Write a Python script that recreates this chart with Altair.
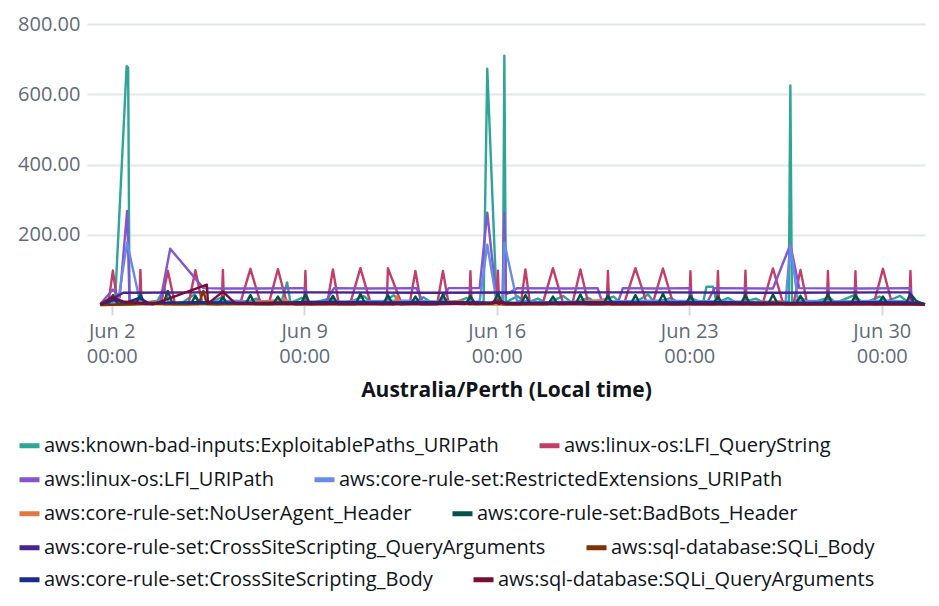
import altair as alt
import pandas as pd

BASE = pd.Timestamp("2024-06-01 00:00")

series_names = [
    "aws:known-bad-inputs:ExploitablePaths_URIPath",
    "aws:linux-os:LFI_QueryString",
    "aws:linux-os:LFI_URIPath",
    "aws:core-rule-set:RestrictedExtensions_URIPath",
    "aws:core-rule-set:NoUserAgent_Header",
    "aws:core-rule-set:BadBots_Header",
    "aws:core-rule-set:CrossSiteScripting_QueryArguments",
    "aws:sql-database:SQLi_Body",
    "aws:core-rule-set:CrossSiteScripting_Body",
    "aws:sql-database:SQLi_QueryArguments",
]
series_colors = [
    "#2ea597", "#c33d69", "#8456ce", "#688ae8", "#e07941",
    "#03524a", "#4a238b", "#7e3103", "#1b2b88", "#780d35",
]

# (hours since Jun 1 00:00 local, value)
exploit = [(14, 2), (20, 10), (26.8, 3), (37.0, 680), (38.3, 676), (39.5, 5), (46, 15), (52, 4),
           (64, 12), (70, 48), (74, 4), (86, 8), (96, 30), (100, 5), (112, 10), (120, 22), (126, 4),
           (140, 6), (150, 18), (158, 4), (172, 8), (177, 64), (180, 6), (190, 20), (198, 5),
           (214, 18), (222, 4), (236, 14), (244, 25), (252, 5), (262, 10), (270, 28), (278, 4),
           (290, 12), (296, 22), (304, 4), (316, 15), (322, 5), (334, 20), (342, 6), (348.5, 8),
           (351.7, 673), (359.9, 8), (365.4, 10), (366.6, 710), (368, 8), (378, 25), (386, 6),
           (396, 18), (404, 4), (418, 26), (426, 5), (440, 20), (446, 8), (462, 24), (468, 5),
           (484, 14), (492, 30), (498, 6), (512, 20), (520, 4), (532, 16), (540, 6), (543, 52),
           (548.7, 52), (552, 6), (562, 20), (570, 4), (586, 18), (594, 6), (608, 10), (614.8, 8),
           (616.2, 625), (617.6, 8), (626, 20), (634, 5), (650, 22), (656, 6), (672, 28), (680, 4),
           (694, 24), (700, 10), (712, 26), (720, 5), (728, 8), (733.7, 2)]

lfi_query = [(14, 3), (21, 4), (25, 98), (29, 3), (48, 5), (49, 100), (50, 4), (67, 3), (73, 97),
             (79, 5), (91, 3), (97, 99), (103, 4), (120, 3), (121, 100), (122, 5), (136, 3),
             (145, 103), (154, 4), (161, 3), (169, 102), (177, 3), (192, 4), (193, 97), (194, 3),
             (212, 3), (217, 101), (222, 5), (232, 3), (241, 105), (250, 4), (264, 5), (265, 105),
             (277, 3), (284, 4), (289, 97), (294, 3), (308, 3), (313, 97), (318, 4), (336, 3),
             (337, 96), (338, 5), (360, 4), (361, 98), (362, 3), (381, 3), (385, 101), (389, 4),
             (400, 3), (409, 105), (418, 3), (426, 4), (433, 101), (440, 3), (456, 3), (457, 97),
             (458, 4), (471, 3), (481, 105), (491, 4), (496, 3), (505, 104), (514, 3), (528, 4),
             (529, 96), (530, 3), (552, 3), (553, 97), (554, 4), (576, 3), (577, 98), (578, 5),
             (592, 3), (601, 104), (610, 3), (619, 4), (625, 100), (631, 3), (648, 3), (649, 97),
             (650, 4), (672, 3), (673, 96), (674, 3), (689, 4), (697, 103), (705, 3), (720, 3),
             (721, 97), (722, 4), (733.5, 2)]

lfi_uri = [(14, 3), (25, 44), (31, 22), (37.4, 268), (39.5, 12), (48, 8), (58, 6), (66, 5),
           (75, 160), (104, 48), (120, 47), (150, 47), (192, 48), (196, 8), (210, 6), (218, 48),
           (250, 47), (290, 48), (296, 5), (310, 6), (318, 48), (345, 48), (351.7, 263),
           (359.9, 10), (365, 10), (366.6, 263), (368, 30), (378, 48), (420, 47), (448, 48),
           (452, 8), (466, 10), (470, 48), (500, 47), (528, 48), (532, 5), (544, 10), (550, 48),
           (601, 47), (616.2, 172), (624, 48), (680, 47), (720, 48), (724, 5), (733.7, 3)]

restricted = [(14, 2), (29.4, 8), (37.4, 178), (48.6, 10), (60, 4), (90, 6), (130, 12), (180, 8),
              (230, 10), (280, 12), (330, 8), (345, 10), (351.7, 172), (359.9, 10), (365.4, 10),
              (366.6, 178), (377.6, 12), (400, 8), (450, 10), (500, 12), (560, 10), (612, 8),
              (616.2, 172), (622.8, 12), (660, 10), (700, 12), (720, 10), (733.7, 2)]

no_user_agent = [(14, 0), (40, 2), (60, 10), (70, 1), (120, 2), (176, 15), (184, 1), (240, 3),
                 (270, 1), (273, 25), (276, 1), (330, 12), (336, 1), (400, 2), (455, 15),
                 (460, 1), (520, 3), (608, 10), (612, 1), (680, 2), (700, 1), (725, 8), (733.7, 0)]

bad_bots = [(14, 2), (21, 3), (25, 28), (29, 4), (45, 3), (49, 30), (53, 3), (69, 4), (73, 40),
            (77, 3), (93, 3), (97, 26), (101, 4), (117, 3), (121, 22), (125, 3), (141, 4),
            (145, 28), (149, 3), (165, 3), (169, 24), (173, 4), (189, 3), (193, 30), (197, 3),
            (213, 4), (217, 26), (221, 3), (237, 3), (241, 32), (245, 4), (261, 3), (265, 28),
            (269, 3), (285, 4), (289, 24), (293, 3), (309, 3), (313, 30), (317, 4), (333, 3),
            (337, 26), (341, 3), (357, 4), (361, 34), (365, 3), (381, 3), (385, 28), (389, 4),
            (405, 3), (409, 24), (413, 3), (429, 4), (433, 30), (437, 3), (453, 3), (457, 26),
            (461, 4), (477, 3), (481, 28), (485, 3), (501, 4), (505, 32), (509, 3), (525, 3),
            (529, 26), (533, 4), (549, 3), (553, 24), (557, 3), (573, 4), (577, 28), (581, 3),
            (597, 3), (601, 30), (605, 4), (621, 3), (625, 26), (629, 3), (645, 4), (649, 30),
            (653, 3), (669, 3), (673, 28), (677, 4), (693, 3), (697, 24), (701, 3), (717, 4),
            (721, 32), (726, 12), (730, 6), (733.7, 2)]

xss_query = [(14, 2), (25, 18), (34, 35), (100, 36), (200, 36), (300, 35), (400, 36), (500, 36),
             (600, 35), (700, 36), (720, 36), (724, 4), (733.7, 2)]

sqli_body = [(14, 0), (60, 3), (100, 3), (104, 40), (107, 3), (160, 2), (300, 4), (358, 6),
             (361, 14), (366, 3), (500, 3), (600, 2), (700, 3), (733.7, 1)]

xss_body = [(14, 2), (26, 14), (36, 6), (48, 20), (56, 6), (100, 8), (150, 6), (200, 9), (260, 7),
            (320, 8), (380, 6), (440, 8), (500, 7), (560, 8), (620, 6), (680, 8), (720, 7),
            (733.7, 2)]

sqli_query = [(14, 2), (24, 22), (34, 10), (60, 2), (107, 58), (108, 4), (121, 38), (132, 4),
              (200, 3), (300, 2), (355, 4), (358, 12), (362, 3), (365, 10), (368, 3), (500, 2),
              (600, 2), (700, 2), (733.7, 1)]

series_points = [exploit, lfi_query, lfi_uri, restricted, no_user_agent,
                 bad_bots, xss_query, sqli_body, xss_body, sqli_query]

rows = []
for name, pts in zip(series_names, series_points):
    for h, v in pts:
        t = (BASE + pd.Timedelta(hours=h)).strftime("%Y-%m-%dT%H:%M:%S")
        rows.append({"series": name, "t": t, "h": h, "v": v})
df = pd.DataFrame(rows)

FONT = "Open Sans"
tick_dates = [alt.DateTime(year=2024, month=6, date=d) for d in [2, 9, 16, 23, 30]]

x_enc = alt.X(
    "t:T",
    scale=alt.Scale(domain=[alt.DateTime(year=2024, month=6, date=1, hours=2, minutes=24),
                            alt.DateTime(year=2024, month=7, date=1, hours=13, minutes=42)]),
    axis=alt.Axis(
        values=tick_dates,
        labelExpr="[timeFormat(datum.value, '%b %-d'), timeFormat(datum.value, '%H:%M')]",
        labelFont=FONT, labelFontSize=20, labelColor="#5f6b7a", labelLineHeight=25,
        labelPadding=6, tickSize=10, tickColor="#d5dbdb", tickWidth=2,
        domain=False, grid=False, labelFlush=False, labelOverlap=False,
        title="Australia/Perth (Local time)", titleFont=FONT, titleFontSize=21,
        titleFontWeight="bold", titleColor="#0f141a", titlePadding=13,
    ),
)
y_enc = alt.Y(
    "v:Q",
    scale=alt.Scale(domain=[0, 800], nice=False),
    axis=alt.Axis(
        values=[200, 400, 600, 800], format=".2f",
        labelFont=FONT, labelFontSize=20, labelColor="#5f6b7a", labelPadding=7,
        ticks=False, domain=False, grid=True, gridColor="#e3e7e8", gridWidth=2,
        title=None,
    ),
)

# one legend row per pair of series (the reference legend flows two items per row)
row_tops = [409, 443, 477, 511, 543]
layers = []
for r in range(5):
    pair = series_names[2 * r: 2 * r + 2]
    cols = series_colors[2 * r: 2 * r + 2]
    sub = df[df["series"].isin(pair)]
    layer = alt.Chart(sub).mark_line(strokeWidth=2.4, strokeJoin="round").encode(
        x=x_enc,
        y=y_enc,
        color=alt.Color(
            "series:N",
            sort=pair,
            scale=alt.Scale(domain=pair, range=cols),
            legend=alt.Legend(
                title=None, orient="none", legendX=-70, legendY=row_tops[r],
                direction="horizontal", columnPadding=30,
                symbolType="stroke", symbolStrokeWidth=5, symbolSize=400,
                labelFont=FONT, labelFontSize=20, labelColor="#0f141a", labelOffset=2,
                labelLimit=700,
            ),
        ),
        order=alt.Order("h:Q"),
    )
    layers.append(layer)

chart = alt.layer(*layers).resolve_scale(color="independent").resolve_legend(
    color="independent"
).properties(
    width=838, height=281,
    autosize=alt.AutoSizeParams(type="none"),
    padding={"left": 79, "top": 16, "right": 6, "bottom": 292},
).configure_view(stroke="transparent")

chart.save("out.html", embed_options={"renderer": "svg", "actions": False})
